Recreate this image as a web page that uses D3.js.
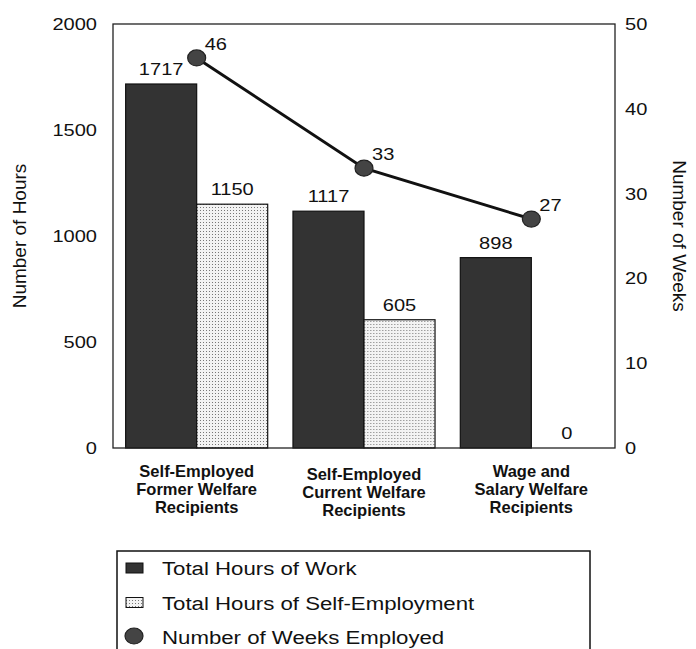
<!DOCTYPE html>
<html>
<head>
<meta charset="utf-8">
<script src="https://cdn.jsdelivr.net/npm/d3@7/dist/d3.min.js"></script>
<style>
  body { margin: 0; background: #fff; }
  svg { display: block; font-family: "Liberation Sans", Arial, sans-serif; }
</style>
</head>
<body>
<svg id="svg1" width="696" height="649"></svg>
<script>
// data
var categories = ["Self-Employed Former Welfare Recipients",
                  "Self-Employed Current Welfare Recipients",
                  "Wage and Salary Welfare Recipients"];
var categoryLines = [["Self-Employed", "Former Welfare", "Recipients"],
                     ["Self-Employed", "Current Welfare", "Recipients"],
                     ["Wage and", "Salary Welfare", "Recipients"]];
var series = ["Total Hours of Work", "Total Hours of Self-Employment"];
var totalHours = [1717, 1117, 898];
var selfEmpHours = [1150, 605, 0];
var weeksEmployed = [46, 33, 27];
var lineName = "Number of Weeks Employed";
var hoursTicks = [0, 500, 1000, 1500, 2000];
var weeksTicks = [0, 10, 20, 30, 40, 50];

var svg = d3.select('svg');

// plot box (window.top is taken, so no plain "top" here)
var plotLeft = 113, plotRight = 615, plotTop = 24, plotBottom = 448;
var textColor = "#111";
var darkFill = "#333";

// pattern for the stippled bars
var defs = svg.append("defs");
var pat = defs.append("pattern")
    .attr("id", "dots")
    .attr("patternUnits", "userSpaceOnUse")
    .attr("width", 3).attr("height", 3);
pat.append("rect").attr("width", 3).attr("height", 3).attr("fill", "#f3f3f3");
pat.append("rect").attr("width", 1).attr("height", 1).attr("fill", "#777");

var x0 = d3.scaleBand().domain(categories).range([plotLeft, plotRight]).padding(0);
var x1 = d3.scaleBand().domain(series).range([0, x0.bandwidth()])
    .paddingInner(0).paddingOuter(0.178);
var yHours = d3.scaleLinear().domain([0, 2000]).range([plotBottom, plotTop]);
var yWeeks = d3.scaleLinear().domain([0, 50]).range([plotBottom, plotTop]);

var fills = { "Total Hours of Work": darkFill, "Total Hours of Self-Employment": "url(#dots)" };

// the text in the scan is a bit wider than Arial, so stretch it sideways
function stretch(sel, k) {
    sel.each(function() {
        var t = d3.select(this);
        var x = +t.attr("x") || 0;
        t.attr("x", x / k).attr("transform", "scale(" + k + ",1)");
    });
}

var rows = categories.map(function(c, i) {
    return { cat: c, values: [
        { key: series[0], value: totalHours[i] },
        { key: series[1], value: selfEmpHours[i] }
    ]};
});

// bars
var groups = svg.selectAll("g.cat")
    .data(rows)
    .enter().append("g")
    .attr("class", "cat")
    .attr("transform", function(d) { return "translate(" + x0(d.cat) + ",0)"; });

groups.selectAll("rect")
    .data(function(d) { return d.values; })
    .enter().append("rect")
    .attr("x", function(d) { return x1(d.key); })
    .attr("y", function(d) { return yHours(d.value); })
    .attr("width", x1.bandwidth())
    .attr("height", function(d) { return plotBottom - yHours(d.value); })
    .attr("fill", function(d) { return fills[d.key]; })
    .attr("stroke", "#111")
    .attr("stroke-width", 1.2);

// bar values
groups.selectAll("g.val")
    .data(function(d) { return d.values; })
    .enter().append("g")
    .attr("class", "val")
    .attr("transform", function(d) {
        return "translate(" + (x1(d.key) + x1.bandwidth() / 2) + "," + (yHours(d.value) - 9) + ")";
    })
    .append("text")
    .attr("text-anchor", "middle")
    .attr("font-size", 17)
    .attr("fill", textColor)
    .text(function(d) { return d.value; })
    .call(stretch, 1.18);

// frame round the plot
svg.append("rect")
    .attr("x", plotLeft).attr("y", plotTop)
    .attr("width", plotRight - plotLeft).attr("height", plotBottom - plotTop)
    .attr("fill", "none")
    .attr("stroke", "#222")
    .attr("stroke-width", 1.3);

// left axis
var axL = svg.append("g")
    .attr("transform", "translate(" + plotLeft + ",0)")
    .call(d3.axisLeft(yHours).tickValues(hoursTicks).tickFormat(d3.format("d"))
        .tickSize(0).tickPadding(16));
axL.select(".domain").remove();
axL.selectAll("text").attr("font-size", 17).attr("fill", textColor)
    .call(stretch, 1.18);
axL.attr("font-family", null).attr("font-size", null);

// right axis
var axR = svg.append("g")
    .attr("transform", "translate(" + plotRight + ",0)")
    .call(d3.axisRight(yWeeks).tickValues(weeksTicks).tickFormat(d3.format("d"))
        .tickSize(0).tickPadding(10));
axR.select(".domain").remove();
axR.selectAll("text").attr("font-size", 17).attr("fill", textColor)
    .call(stretch, 1.18);
axR.attr("font-family", null).attr("font-size", null);

// axis titles
svg.append("text")
    .attr("transform", "translate(26,236) rotate(-90)")
    .attr("text-anchor", "middle")
    .attr("font-size", 19)
    .attr("fill", textColor)
    .text("Number of Hours");

svg.append("text")
    .attr("transform", "translate(673,236) rotate(90)")
    .attr("text-anchor", "middle")
    .attr("font-size", 19)
    .attr("fill", textColor)
    .text("Number of Weeks");

// category labels
categories.forEach(function(c, i) {
    var t = svg.append("text")
        .attr("text-anchor", "middle")
        .attr("font-size", 16.5)
        .attr("font-weight", "bold")
        .attr("fill", textColor);
    categoryLines[i].forEach(function(line, j) {
        t.append("tspan")
            .attr("x", x0(c) + x0.bandwidth() / 2)
            .attr("y", 477 + j * 18 + (i == 1 ? 3 : 0))
            .text(line);
    });
});

// weeks line
var pts = categories.map(function(c, i) {
    return { x: x0(c) + x0.bandwidth() / 2, v: weeksEmployed[i] };
});

var line = d3.line()
    .x(function(d) { return d.x; })
    .y(function(d) { return yWeeks(d.v); });

svg.append("path")
    .datum(pts)
    .attr("d", line)
    .attr("fill", "none")
    .attr("stroke", "#111")
    .attr("stroke-width", 3);

svg.selectAll("ellipse.pt")
    .data(pts)
    .enter().append("ellipse")
    .attr("class", "pt")
    .attr("cx", function(d) { return d.x; })
    .attr("cy", function(d) { return yWeeks(d.v); })
    .attr("rx", 9).attr("ry", 8)
    .attr("fill", "#444")
    .attr("stroke", "#222")
    .attr("stroke-width", 1.2);

svg.selectAll("g.ptlabel")
    .data(pts)
    .enter().append("g")
    .attr("class", "ptlabel")
    .attr("transform", function(d) { return "translate(" + (d.x + 8) + "," + (yWeeks(d.v) - 8) + ")"; })
    .append("text")
    .attr("font-size", 17)
    .attr("fill", textColor)
    .text(function(d) { return d.v; })
    .call(stretch, 1.18);

// legend (bottom runs off the page like in the original)
var legend = svg.append("g");
legend.append("rect")
    .attr("x", 117).attr("y", 551)
    .attr("width", 473).attr("height", 140)
    .attr("fill", "none")
    .attr("stroke", "#111")
    .attr("stroke-width", 1.5);

var legendItems = [
    { label: series[0], kind: "bar", fill: darkFill },
    { label: series[1], kind: "bar", fill: "url(#dots)" },
    { label: lineName, kind: "dot" }
];

legendItems.forEach(function(d, i) {
    var base = 575 + i * 34.5;
    if (d.kind == "bar") {
        legend.append("rect")
            .attr("x", 126).attr("y", base - 12)
            .attr("width", 17).attr("height", 10)
            .attr("fill", d.fill)
            .attr("stroke", "#111")
            .attr("stroke-width", 1);
    } else {
        legend.append("ellipse")
            .attr("cx", 134).attr("cy", base - 8)
            .attr("rx", 9).attr("ry", 8)
            .attr("fill", "#444")
            .attr("stroke", "#222")
            .attr("stroke-width", 1.2);
    }
    legend.append("g")
        .attr("transform", "translate(162," + base + ")")
        .append("text")
        .attr("font-size", 19)
        .attr("fill", textColor)
        .text(d.label)
        .call(stretch, 1.17);
});
</script>
</body>
</html>
